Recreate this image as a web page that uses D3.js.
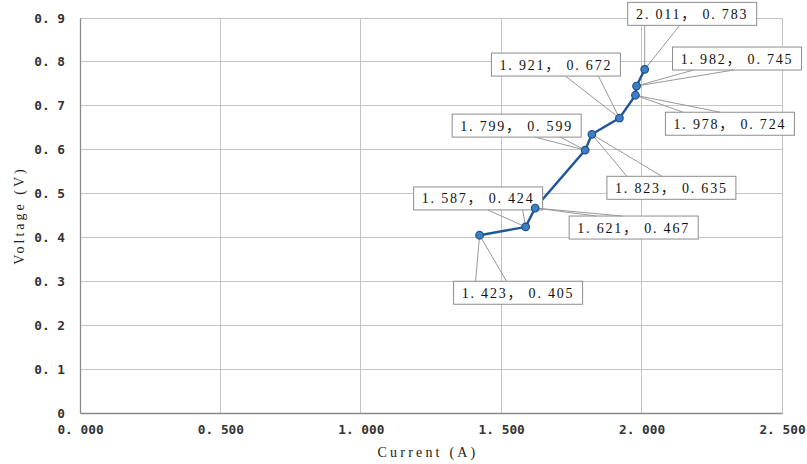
<!DOCTYPE html>
<html>
<head>
<meta charset="utf-8">
<script src="https://cdn.jsdelivr.net/npm/d3@7"></script>
<style>
  html, body { margin: 0; padding: 0; background: #fff; }
  svg { display: block; }
</style>
</head>
<body>
<svg id="chart" width="807" height="464"></svg>
<script>
// ---- data ----
const currents = [1.423, 1.587, 1.621, 1.799, 1.823, 1.921, 1.978, 1.982, 2.011];
const voltages = [0.405, 0.424, 0.467, 0.599, 0.635, 0.672, 0.724, 0.745, 0.783];
const xTicks = [0, 0.5, 1.0, 1.5, 2.0, 2.5];
const yTicks = [0, 0.1, 0.2, 0.3, 0.4, 0.5, 0.6, 0.7, 0.8, 0.9];
const xTitle = "Current (A)";
const yTitle = "Voltage (V)";

// ---- label layout (callout box offset from the point, base of pointer) ----
const calloutBox = [[-26, 46], [-112, -40], [34, 8], [-133, -36], [15, 42], [-128, -65], [30, 17], [36, -39], [-17, -67]];
const calloutSide = ["top", "bottom", "top", "bottom", "top", "bottom", "top", "bottom", "bottom"];
const calloutBase = [[22, 53], [74, 109], [27, 53], [83, 108], [20, 55], [74, 107], [18, 55], [21, 61], [17, 52]];

const svg = d3.select("#chart");
const L = 80, R = 782, T = 18, B = 413;

const x = d3.scaleLinear().domain([0, 2.5]).range([L, R]);
const y = d3.scaleLinear().domain([0, 0.9]).range([B, T]);

const monoSans = "'DejaVu Sans Mono', monospace";
const serif = "'Liberation Serif', 'Noto Sans CJK JP', serif";

// gridlines
const grid = svg.append("g");
grid.selectAll("line.gx").data(xTicks.filter(d => d > 0)).join("line")
  .attr("x1", d => x(d)).attr("x2", d => x(d)).attr("y1", T).attr("y2", B)
  .attr("stroke", "#c4c4c4").attr("stroke-width", 1).attr("shape-rendering", "crispEdges");
grid.selectAll("line.gy").data(yTicks.filter(d => d > 0)).join("line")
  .attr("x1", L).attr("x2", R).attr("y1", d => y(d)).attr("y2", d => y(d))
  .attr("stroke", "#c4c4c4").attr("stroke-width", 1).attr("shape-rendering", "crispEdges");

// axes
const xAxis = svg.append("g").attr("transform", `translate(0,${B})`)
  .call(d3.axisBottom(x).tickValues(xTicks).tickSize(0).tickPadding(12)
    .tickFormat(d => d3.format(".3f")(d).replace(".", ". ")));
const yAxis = svg.append("g").attr("transform", `translate(${L},0)`)
  .call(d3.axisLeft(y).tickValues(yTicks).tickSize(0).tickPadding(15)
    .tickFormat(d => d === 0 ? "0" : d3.format(".1f")(d).replace(".", ". ")));
[xAxis, yAxis].forEach(a => {
  a.select(".domain").attr("stroke", "#8a8a8a").attr("stroke-width", 1.3);
  a.selectAll("text").attr("font-family", monoSans).attr("font-size", "12.8px")
    .attr("font-weight", "bold").attr("fill", "#333");
});

// axis titles
svg.append("text").attr("x", (L + R) / 2 - 3).attr("y", 457)
  .attr("text-anchor", "middle").attr("font-family", serif).attr("font-size", "14px")
  .attr("letter-spacing", "3.2px").attr("fill", "#222").text(xTitle);
svg.append("text").attr("transform", `translate(24,${(T + B) / 2}) rotate(-90)`)
  .attr("text-anchor", "middle").attr("font-family", serif).attr("font-size", "14px")
  .attr("letter-spacing", "3px").attr("fill", "#222").text(yTitle);

const pts = currents.map((c, i) => ({ c, v: voltages[i], i }));

// series line
svg.append("path").datum(pts)
  .attr("d", d3.line().x(d => x(d.c)).y(d => y(d.v)))
  .attr("fill", "none").attr("stroke", "#1f569a").attr("stroke-width", 2.4);

// callouts
const fmt = v => d3.format(".3f")(v).replace(".", ". ");
const BW = 129, BH = 23;
const cg = svg.append("g");
pts.forEach(p => {
  const px = x(p.c), py = y(p.v);
  const bx = px + calloutBox[p.i][0], by = py + calloutBox[p.i][1];
  const ey = calloutSide[p.i] === "top" ? by : by + BH;
  const b1 = bx + calloutBase[p.i][0], b2 = bx + calloutBase[p.i][1];
  cg.append("rect").attr("x", bx).attr("y", by).attr("width", BW).attr("height", BH)
    .attr("fill", "#fff").attr("stroke", "#8c8c8c").attr("stroke-width", 1);
  cg.append("path").attr("d", `M${b1},${ey}L${px},${py}L${b2},${ey}`)
    .attr("fill", "none").attr("stroke", "#999").attr("stroke-width", 1);
  cg.append("text").attr("x", bx + BW / 2).attr("y", by + BH / 2 + 5)
    .attr("text-anchor", "middle").attr("font-family", serif).attr("font-size", "14px")
    .attr("letter-spacing", "1.8px").attr("fill", "#111").text(`${fmt(p.c)}， ${fmt(p.v)}`);
});

// markers
svg.append("g").selectAll("circle").data(pts).join("circle")
  .attr("cx", d => x(d.c)).attr("cy", d => y(d.v)).attr("r", 3.8)
  .attr("fill", "#3d7fc4").attr("stroke", "#1f4f8f").attr("stroke-width", 1.2);
</script>
</body>
</html>
